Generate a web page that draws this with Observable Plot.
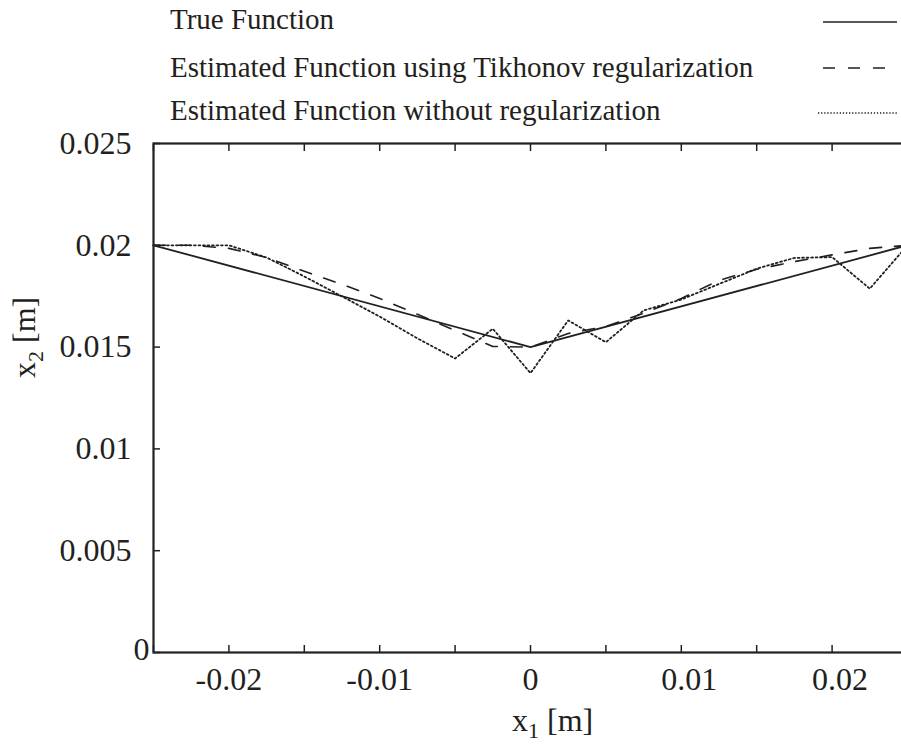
<!DOCTYPE html>
<html>
<head>
<meta charset="utf-8">
<script src="https://cdn.jsdelivr.net/npm/d3@7"></script>
<script src="https://cdn.jsdelivr.net/npm/@observablehq/plot@0.6"></script>
<style>
  html, body { margin: 0; padding: 0; background: #fff; }
  #wrap { width: 901px; height: 746px; overflow: hidden; position: relative; }
  #wrap svg { max-width: none !important; }
</style>
</head>
<body>
<div id="wrap"></div>
<script>
// ---- data ----
const gridX = [-0.025, -0.0225, -0.02, -0.0175, -0.015, -0.0125, -0.01, -0.0075, -0.005, -0.0025, 0,
               0.0025, 0.005, 0.0075, 0.01, 0.0125, 0.015, 0.0175, 0.02, 0.0225, 0.025];
const trueX = [-0.025, 0, 0.025];
const trueY = [0.02, 0.015, 0.02];
const tikhonovY = [0.02, 0.02, 0.01985, 0.0194, 0.01872, 0.01808, 0.01739, 0.01661, 0.01582, 0.01503, 0.015,
                   0.01567, 0.01602, 0.01666, 0.01739, 0.01828, 0.01882, 0.0192, 0.01953, 0.01985, 0.02];
const noRegY = [0.02, 0.02, 0.02, 0.0194, 0.01847, 0.01749, 0.0165, 0.01543, 0.01444, 0.0159, 0.01372,
                0.01631, 0.01524, 0.0168, 0.01734, 0.0181, 0.01885, 0.01938, 0.01942, 0.01787, 0.02];
const seriesNames = ["True Function", "Estimated Function using Tikhonov regularization", "Estimated Function without regularization"];
const xTickValues = [-0.02, -0.01, 0, 0.01, 0.02];
const xTickLabels = ["-0.02", "-0.01", "0", "0.01", "0.02"];
const xMinorTicks = [-0.025, -0.02, -0.015, -0.01, -0.005, 0, 0.005, 0.01, 0.015, 0.02, 0.025];
const yTickValues = [0, 0.005, 0.01, 0.015, 0.02, 0.025];
const yTickLabels = ["0", "0.005", "0.01", "0.015", "0.02", "0.025"];

const ink = "#231f20";
const font = "Liberation Serif, Times New Roman, serif";

const trueData = trueX.map((x, i) => ({x, y: trueY[i]}));
const tikData = gridX.map((x, i) => ({x, y: tikhonovY[i]}));
const noRegData = gridX.map((x, i) => ({x, y: noRegY[i]}));

const fmtX = d => xTickLabels[xTickValues.indexOf(d)];
const fmtY = d => yTickLabels[yTickValues.indexOf(d)];
const blank = () => "";
const dotted = "1.8,2.7";
const dashed = "12,13";

const plot = Plot.plot({
  width: 910,
  height: 746,
  marginLeft: 153,
  marginRight: 3,
  marginTop: 143,
  marginBottom: 94,
  x: {domain: [-0.025, 0.025]},
  y: {domain: [0, 0.025]},
  style: {fontFamily: font, fontSize: "32px", color: ink, background: "#fff", overflow: "visible", maxWidth: "none"},
  marks: [
    // inward ticks on all sides
    Plot.axisY(yTickValues, {anchor: "left", tickSize: 7, dx: 7, tickFormat: blank, label: null, strokeWidth: 1.5}),
    Plot.axisY(yTickValues, {anchor: "right", tickSize: 7, dx: -7, tickFormat: blank, label: null, strokeWidth: 1.5}),
    Plot.axisX(xMinorTicks, {anchor: "bottom", tickSize: 7, dy: -7, tickFormat: blank, label: null, strokeWidth: 1.5}),
    Plot.axisX(xMinorTicks, {anchor: "top", tickSize: 7, dy: 7, tickFormat: blank, label: null, strokeWidth: 1.5}),
    // tick labels
    Plot.axisY(yTickValues.filter(d => d !== 0), {anchor: "left", tickSize: 0, tickPadding: 22, dy: 0, tickFormat: fmtY, label: null, fontSize: 32}),
    Plot.axisY([0], {anchor: "left", tickSize: 0, tickPadding: 4, dy: -3, tickFormat: fmtY, label: null, fontSize: 32}),
    Plot.axisX(xTickValues.filter(d => d <= 0), {anchor: "bottom", tickSize: 0, tickPadding: 15, tickFormat: fmtX, label: null, fontSize: 32}),
    Plot.axisX(xTickValues.filter(d => d > 0), {anchor: "bottom", tickSize: 0, tickPadding: 15, dx: 8, tickFormat: fmtX, label: null, fontSize: 32}),
    // data
    Plot.line(noRegData, {x: "x", y: "y", stroke: ink, strokeWidth: 1.8, strokeDasharray: dotted}),
    Plot.line(tikData, {x: "x", y: "y", stroke: ink, strokeWidth: 1.6, strokeDasharray: dashed}),
    Plot.line(trueData, {x: "x", y: "y", stroke: ink, strokeWidth: 1.8}),
    Plot.frame({stroke: ink, strokeWidth: 2.2})
  ]
});

document.getElementById("wrap").appendChild(plot);

// axis titles with subscripts, and legend, drawn into the plot's SVG
const svg = d3.select(plot);
const xs = plot.scale("x");
const xT = svg.append("text")
  .attr("x", xs.apply(0) - 18).attr("y", 731).attr("text-anchor", "start")
  .attr("fill", ink).attr("font-family", font).attr("font-size", 32);
xT.append("tspan").text("x");
xT.append("tspan").attr("dy", 7).attr("font-size", 22).text("1");
xT.append("tspan").attr("dy", -7).text(" [m]");

const yT = svg.append("text")
  .attr("transform", "translate(35,378) rotate(-90)").attr("text-anchor", "start")
  .attr("fill", ink).attr("font-family", font).attr("font-size", 32);
yT.append("tspan").text("x");
yT.append("tspan").attr("dy", 8).attr("font-size", 22).text("2");
yT.append("tspan").attr("dy", -8).text(" [m]");

// legend
const legendDash = [null, dashed, dotted];
const legendBase = [29, 77, 120];
const legendLineY = [22, 68, 113];
seriesNames.forEach((name, i) => {
  svg.append("text").attr("x", 170).attr("y", legendBase[i]).attr("text-anchor", "start")
    .attr("fill", ink).attr("font-family", font).attr("font-size", 29).text(name);
  svg.append("line").attr("x1", i === 2 ? 818 : 823).attr("x2", 897)
    .attr("y1", legendLineY[i]).attr("y2", legendLineY[i])
    .attr("stroke", ink).attr("stroke-width", i === 2 ? 1.3 : 1.6)
    .attr("stroke-dasharray", i === 2 ? "1.3,1.8" : legendDash[i]);
});
</script>
</body>
</html>
